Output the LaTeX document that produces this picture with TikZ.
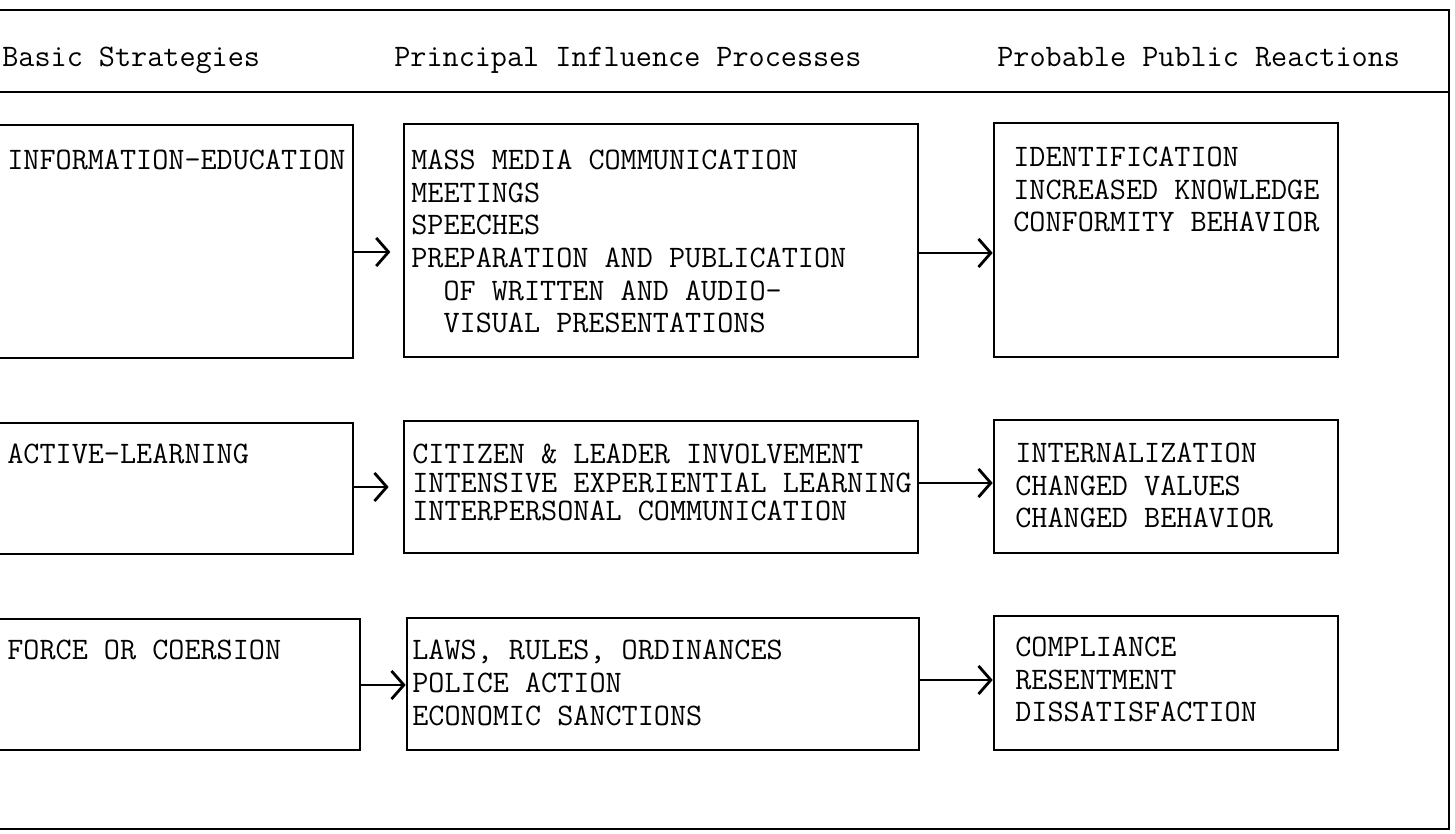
\documentclass[tikz,border=0pt]{standalone}
\usetikzlibrary{arrows.meta,fit}
\begin{document}
\begin{tikzpicture}[x=0.02cm,y=-0.02cm,>={Straight Barb[length=7pt,width=16pt,line width=1.6pt]},
    box/.style={draw,line width=1.5pt,inner sep=0pt},
    txt/.style={font=\fontsize{17.8}{18.6}\selectfont\ttfamily,align=left,inner sep=0pt,anchor=base west},
    txtb/.style={txt,font=\fontsize{17.8}{16.3}\selectfont\ttfamily}]
    \useasboundingbox (0,0) rectangle (1455,834);
    \clip (0,0) rectangle (1455,834);
    % frame and header
    \draw[line width=1.6pt] (-10,10) rectangle (1449,829);
    \draw[line width=1.6pt] (-10,92) -- (1449,92);
    \node[txt] (h1) at (2,67) {Basic Strategies};
    \node[txt] (h2) at (394,67) {Principal Influence Processes};
    \node[txt] (h3) at (997,67) {Probable Public Reactions};
    % boxes
    \node[box,fit={(-10,125) (353,358)}] (a1) {};
    \node[box,fit={(404,124) (918,357)}] (a2) {};
    \node[box,fit={(994,123) (1338,357)}] (a3) {};
    \node[box,fit={(-10,423) (353,554)}] (b1) {};
    \node[box,fit={(404,421) (918,553)}] (b2) {};
    \node[box,fit={(994,420) (1338,553)}] (b3) {};
    \node[box,fit={(-10,619) (360,750)}] (c1) {};
    \node[box,fit={(407,618) (919,750)}] (c2) {};
    \node[box,fit={(994,616) (1338,750)}] (c3) {};
    % texts (placed at the baseline of their last line)
    \node[txt] (la1) at (7,170) {INFORMATION-EDUCATION};
    \node[txt] (la2) at (411,333) {MASS MEDIA COMMUNICATION\\MEETINGS\\SPEECHES\\PREPARATION AND PUBLICATION\\\ \ OF WRITTEN AND AUDIO-\\\ \ VISUAL PRESENTATIONS};
    \node[txt] (la3) at (1013,232) {IDENTIFICATION\\INCREASED KNOWLEDGE\\CONFORMITY BEHAVIOR};
    \node[txt] (lb1) at (7,464) {ACTIVE-LEARNING};
    \node[txtb] (lb2) at (412,521) {CITIZEN \& LEADER INVOLVEMENT\\INTENSIVE EXPERIENTIAL LEARNING\\INTERPERSONAL COMMUNICATION};
    \node[txt] (lb3) at (1015,528) {INTERNALIZATION\\CHANGED VALUES\\CHANGED BEHAVIOR};
    \node[txt] (lc1) at (7,660) {FORCE OR COERSION};
    \node[txt] (lc2) at (412,725) {LAWS, RULES, ORDINANCES\\POLICE ACTION\\ECONOMIC SANCTIONS};
    \node[txt] (lc3) at (1015,722) {COMPLIANCE\\RESENTMENT\\DISSATISFACTION};
    % arrows
    \draw[->,line width=1.5pt,shorten >=7pt] (a1.east |- 0,252) -- (a2.west |- 0,252);
    \draw[->,line width=1.5pt] (a2.east |- 0,253) -- (a3.west |- 0,253);
    \draw[->,line width=1.5pt,shorten >=8pt] (b1.east |- 0,487) -- (b2.west |- 0,487);
    \draw[->,line width=1.5pt] (b2.east |- 0,483) -- (b3.west |- 0,483);
    \draw[->,line width=1.5pt] (c1.east |- 0,685) -- (c2.west |- 0,685);
    \draw[->,line width=1.5pt] (c2.east |- 0,680) -- (c3.west |- 0,680);
\end{tikzpicture}
\end{document}
